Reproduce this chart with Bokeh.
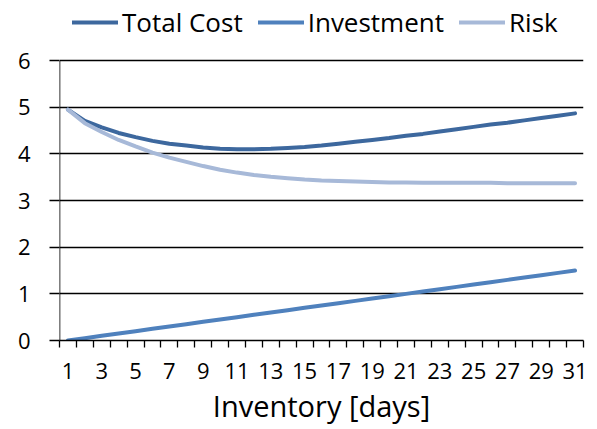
from bokeh.plotting import figure
from bokeh.models import FixedTicker, Legend, LegendItem, Range1d
from bokeh.embed import file_html
from bokeh.resources import INLINE

# Inventory horizon in days
days = list(range(1, 32))

# Cost components per inventory level
investment = [0.00, 0.05, 0.10, 0.15, 0.20, 0.25, 0.30, 0.35, 0.40, 0.45,
              0.50, 0.55, 0.60, 0.65, 0.70, 0.75, 0.80, 0.85, 0.90, 0.95,
              1.00, 1.05, 1.10, 1.15, 1.20, 1.25, 1.30, 1.35, 1.40, 1.45, 1.50]
risk = [4.95, 4.66, 4.47, 4.30, 4.16, 4.03, 3.92, 3.83, 3.74, 3.66,
        3.60, 3.55, 3.51, 3.48, 3.45, 3.43, 3.42, 3.41, 3.40, 3.39,
        3.39, 3.38, 3.38, 3.38, 3.38, 3.38, 3.37, 3.37, 3.37, 3.37, 3.37]
total_cost = [4.95, 4.71, 4.57, 4.45, 4.36, 4.28, 4.22, 4.18, 4.14, 4.11,
              4.10, 4.10, 4.11, 4.13, 4.15, 4.18, 4.22, 4.26, 4.30, 4.34,
              4.39, 4.43, 4.48, 4.53, 4.58, 4.63, 4.67, 4.72, 4.77, 4.82, 4.87]

y_ticks = [0, 1, 2, 3, 4, 5, 6]
x_label_ticks = list(range(1, 32, 2))

FONT = "Open Sans"
C_TOTAL = "#3D689E"
C_INV = "#4F81BD"
C_RISK = "#A7B9D8"

# the frame reaches the top of the canvas so the legend can sit above the value axis
p = figure(width=597, height=429, output_backend="svg", toolbar_location=None,
           x_range=Range1d(0.5, 31.5), y_range=Range1d(0, 7.29),
           min_border_left=59, min_border_right=14,
           min_border_top=0, min_border_bottom=89)
p.outline_line_color = None
p.background_fill_color = "white"
p.border_fill_color = "white"

# series, drawn in order so Risk lies on top
r_total = p.line(days, total_cost, line_color=C_TOTAL, line_width=4, line_cap="round", line_join="round")
r_inv = p.line(days, investment, line_color=C_INV, line_width=4, line_cap="round", line_join="round")
r_risk = p.line(days, risk, line_color=C_RISK, line_width=4, line_cap="round", line_join="round")

# grid
p.xgrid.visible = False
p.ygrid.ticker = FixedTicker(ticks=y_ticks)
p.ygrid.grid_line_color = "black"
p.ygrid.grid_line_width = 1.3

# y axis (its line is drawn only over the 0..6 span)
ya = p.yaxis[0]
ya.ticker = FixedTicker(ticks=y_ticks)
ya.axis_line_color = None
ya.major_tick_line_color = "black"
ya.major_tick_line_width = 1.3
ya.major_tick_out = 10
ya.major_tick_in = 0
ya.minor_tick_line_color = None
ya.major_label_standoff = 19
ya.major_label_text_font = FONT
ya.major_label_text_font_size = "22px"
ya.major_label_text_color = "black"
p.segment(x0=[0.5], y0=[y_ticks[0]], x1=[0.5], y1=[y_ticks[-1]],
          line_color="black", line_width=1.6)

# x axis: ticks on category boundaries, labels on every other day
xa = p.xaxis[0]
xa.ticker = FixedTicker(ticks=x_label_ticks, minor_ticks=[d - 0.5 for d in days] + [31.5])
xa.axis_line_color = "black"
xa.axis_line_width = 1.3
xa.major_tick_line_color = None
xa.major_tick_out = 0
xa.major_tick_in = 0
xa.minor_tick_line_color = "black"
xa.minor_tick_line_width = 1.3
xa.minor_tick_out = 7
xa.minor_tick_in = 0
xa.major_label_standoff = 15
xa.major_label_text_font = FONT
xa.major_label_text_font_size = "22px"
xa.major_label_text_color = "black"
xa.axis_label = "Inventory [days]"
xa.axis_label_standoff = 4
xa.axis_label_text_font = FONT
xa.axis_label_text_font_size = "29px"
xa.axis_label_text_font_style = "normal"
xa.axis_label_text_color = "black"

legend = Legend(items=[LegendItem(label="Total Cost", renderers=[r_total]),
                       LegendItem(label="Investment", renderers=[r_inv]),
                       LegendItem(label="Risk", renderers=[r_risk])],
                orientation="horizontal", location=(13, 300),
                glyph_width=46, glyph_height=20, label_standoff=4, spacing=15,
                padding=2, margin=0, border_line_color=None,
                background_fill_alpha=0,
                label_text_font=FONT, label_text_font_size="26px", label_text_color="black")
p.add_layout(legend, "center")

open("out.html", "w").write(file_html(p, INLINE))
